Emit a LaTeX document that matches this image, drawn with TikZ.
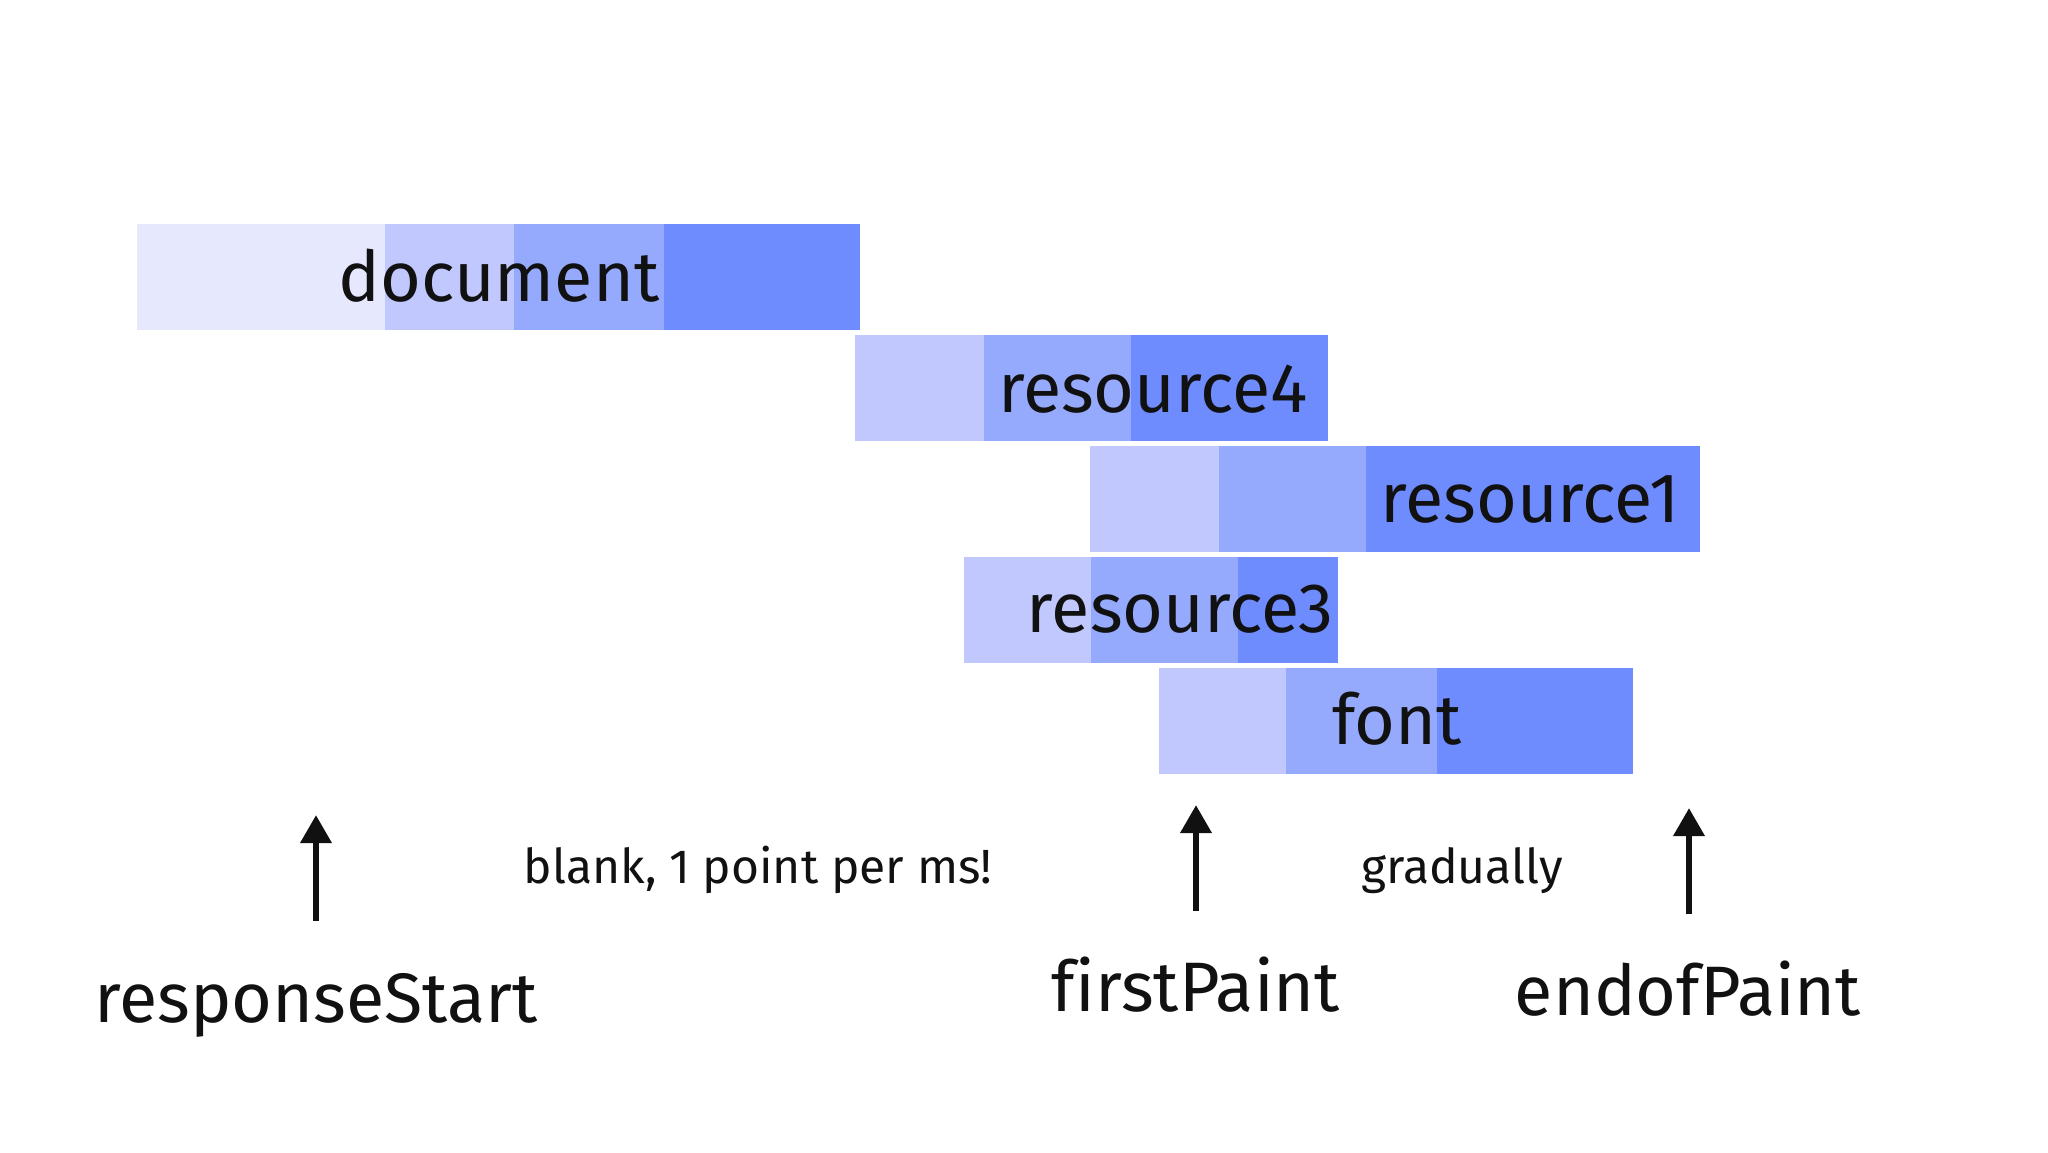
\documentclass[tikz,border=0pt]{standalone}
\usepackage{fontspec}
\setmainfont{Fira Sans}[Ligatures=NoCommon]
\usetikzlibrary{arrows.meta}
\definecolor{cA}{HTML}{E6E8FD}
\definecolor{cB}{HTML}{C0C8FD}
\definecolor{cC}{HTML}{96AAFD}
\definecolor{cD}{HTML}{6E8CFE}
\definecolor{ink}{HTML}{111111}
\begin{document}
\begin{tikzpicture}[x=1pt,y=-1pt,
  bigtxt/.style={inner sep=0pt, anchor=base, text=ink, font=\fontsize{70pt}{84pt}\selectfont},
  smalltxt/.style={inner sep=0pt, anchor=base, text=ink, font=\fontsize{48pt}{58pt}\selectfont},
  marker/.style={draw=ink, line width=6.5pt, -{Triangle[width=30pt,length=28pt]}}]
\fill[white] (0,0) rectangle (2048,1152);
\useasboundingbox (0,0) rectangle (2048,1152);
% document
\fill[cA] (137,224) rectangle (385,330);
\fill[cB] (385,224) rectangle (514,330);
\fill[cC] (514,224) rectangle (664,330);
\fill[cD] (664,224) rectangle (860,330);
\node[bigtxt] (doc) at (499,301) {document};
% resource4
\fill[cB] (855,335) rectangle (984,441);
\fill[cC] (984,335) rectangle (1131,441);
\fill[cD] (1131,335) rectangle (1328,441);
\node[bigtxt] (res4) at (1153,412) {resource4};
% resource1
\fill[cB] (1090,446) rectangle (1219,552);
\fill[cC] (1219,446) rectangle (1366,552);
\fill[cD] (1366,446) rectangle (1700,552);
\node[bigtxt] (res1) at (1530,522) {resource1};
% resource3
\fill[cB] (964,557) rectangle (1091,663);
\fill[cC] (1091,557) rectangle (1238,663);
\fill[cD] (1238,557) rectangle (1338,663);
\node[bigtxt] (res3) at (1180,632) {resource3};
% font
\fill[cB] (1159,668) rectangle (1286,774);
\fill[cC] (1286,668) rectangle (1437,774);
\fill[cD] (1437,668) rectangle (1633,774);
\node[bigtxt] (fnt) at (1397,744) {font};
% markers
\coordinate (rsTail) at (316,921);
\coordinate (rsTip) at (316,815);
\coordinate (fpTail) at (1196,911);
\coordinate (fpTip) at (1196,805);
\coordinate (epTail) at (1689,914);
\coordinate (epTip) at (1689,808);
\draw[marker] (rsTail) -- (rsTip);
\draw[marker] (fpTail) -- (fpTip);
\draw[marker] (epTail) -- (epTip);
\node[bigtxt] (rsLabel) at (316,1022) {responseStart};
\node[bigtxt] (fpLabel) at (1196,1011) {firstPaint};
\node[bigtxt] (epLabel) at (1688,1015) {endofPaint};
\node[smalltxt] (blank) at (758,883) {blank, 1 point per ms!};
\node[smalltxt] (grad) at (1462,883) {gradually};
\end{tikzpicture}
\end{document}
